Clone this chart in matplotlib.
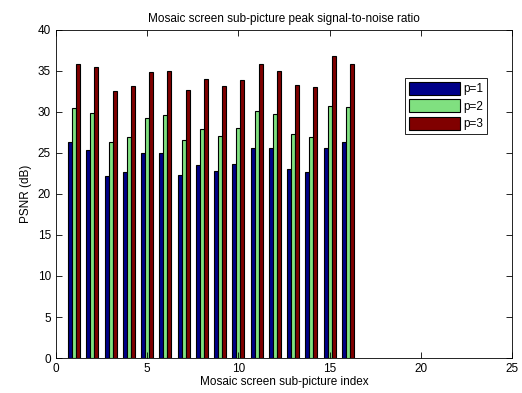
import matplotlib
matplotlib.use("Agg")
import matplotlib.pyplot as plt
import numpy as np

plt.rcParams["font.family"] = ["Liberation Sans", "DejaVu Sans"]

# sub-picture index 1..16
index = list(range(1, 17))
psnr_p1 = [26.3, 25.4, 22.2, 22.7, 25.0, 25.0, 22.3, 23.5,
           22.8, 23.6, 25.6, 25.6, 23.1, 22.7, 25.6, 26.3]
psnr_p2 = [30.5, 29.9, 26.3, 27.0, 29.3, 29.6, 26.6, 27.9,
           27.1, 28.0, 30.1, 29.8, 27.3, 26.9, 30.7, 30.6]
psnr_p3 = [35.8, 35.5, 32.6, 33.1, 34.9, 35.0, 32.7, 34.0,
           33.2, 33.9, 35.8, 35.0, 33.3, 33.0, 36.8, 35.9]
labels = ["p=1", "p=2", "p=3"]
colors = ["#000088", "#80E080", "#800000"]

fig = plt.figure(figsize=(5.22, 3.93), dpi=100)
ax = fig.add_axes([0.107, 0.089, 0.874, 0.835])

x = np.array(index)
w = 0.222
for i, (vals, lab, col) in enumerate(zip([psnr_p1, psnr_p2, psnr_p3], labels, colors)):
    ax.bar(x + (i - 1) * w, vals, w, color=col, edgecolor="black",
           linewidth=0.8, label=lab)

ax.set_xlim(0, 25)
ax.set_ylim(0, 40)
ax.set_xticks(range(0, 26, 5))
ax.set_yticks(range(0, 41, 5))
ax.tick_params(direction="in", top=True, right=True, labelsize=8.5,
               length=4, width=0.6)
for s in ax.spines.values():
    s.set_linewidth(0.6)

ax.set_title("Mosaic screen sub-picture peak signal-to-noise ratio", fontsize=8.5)
ax.set_xlabel("Mosaic screen sub-picture index", fontsize=8.5, labelpad=1)
ax.set_ylabel("PSNR (dB)", fontsize=8.5)

leg = ax.legend(loc="upper left", bbox_to_anchor=(0.765, 0.854), fontsize=8.5,
                fancybox=False, edgecolor="black", framealpha=1,
                handlelength=4.3, handleheight=1.3, labelspacing=0.35,
                borderpad=0.35, handletextpad=0.3, borderaxespad=0)
leg.get_frame().set_linewidth(0.6)

fig.savefig("out.png", dpi=100)
